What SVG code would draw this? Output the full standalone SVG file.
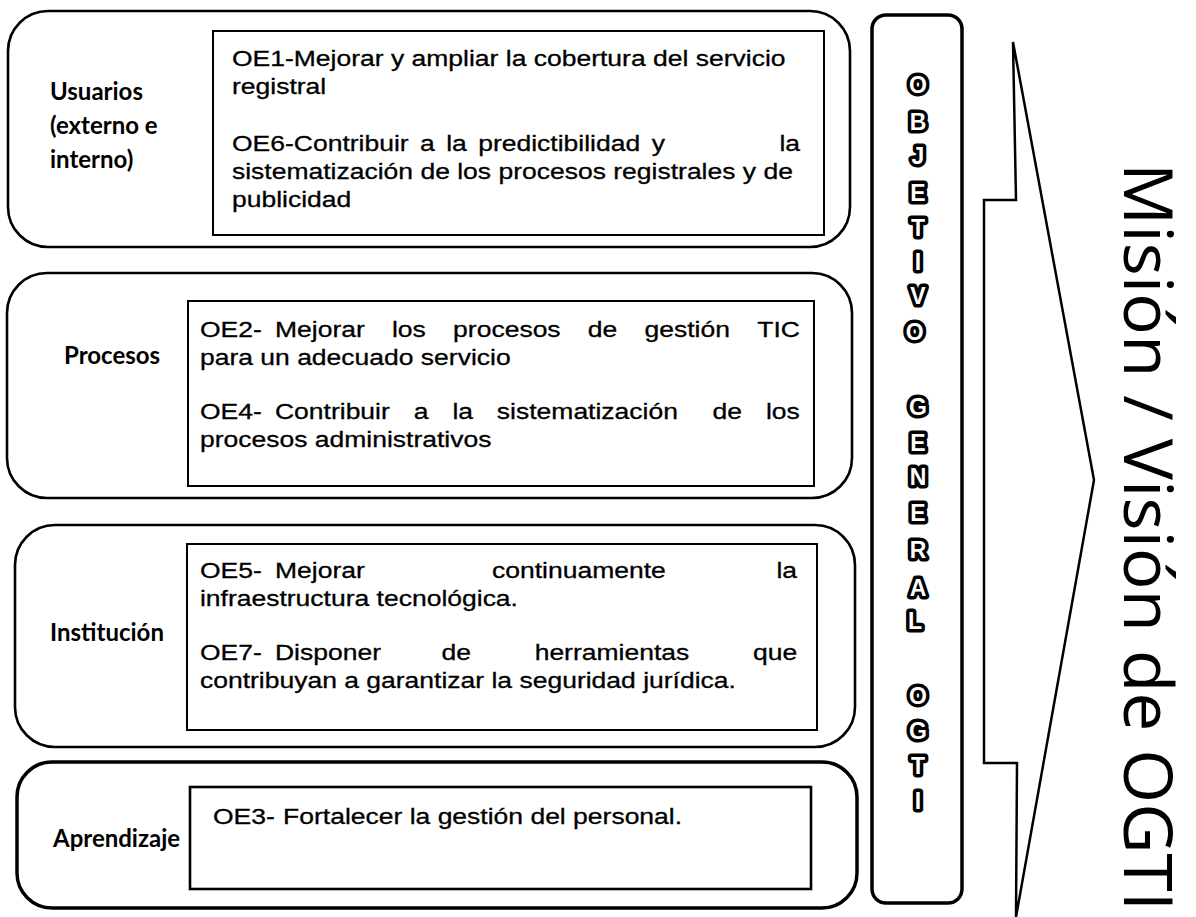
<svg xmlns="http://www.w3.org/2000/svg" width="1196" height="917" viewBox="0 0 1196 917">
<style>
.outer{fill:none;stroke:#000;stroke-width:2.6}
.inner{fill:#fff;stroke:#000;stroke-width:2}
.lbl{font-family:Lato,"Open Sans",sans-serif;font-weight:700;font-size:24px;fill:#000}
.t{font-family:"Liberation Sans",Arial,sans-serif;font-size:22px;fill:#000;stroke:#000;stroke-width:0.3}
.ltr{font-family:"Liberation Sans",Arial,sans-serif;font-weight:700;font-size:23px;fill:#fff;stroke:#000;stroke-width:7;stroke-linejoin:round;paint-order:stroke;text-anchor:middle}
.big{font-family:"Open Sans","Noto Sans",sans-serif;font-size:67px;fill:#000}
</style>
<rect width="1196" height="917" fill="#fff"/>

<g id="usuarios">
  <rect class="outer" x="8" y="11" width="842" height="236" rx="40"/>
  <rect class="inner" x="213" y="31" width="611" height="204"/>
  <text class="lbl" x="50" y="100">Usuarios</text>
  <text class="lbl" x="50" y="134">(externo e</text>
  <text class="lbl" x="50" y="168">interno)</text>
  <g transform="scale(1.2045,1)">
    <text class="t" x="192.6" y="66">OE1-Mejorar y ampliar la cobertura del servicio</text>
    <text class="t" x="192.6" y="94">registral</text>
    <text class="t" y="151"><tspan x="192.6">OE6-Contribuir</tspan><tspan x="348.8">a</tspan><tspan x="370.4">la</tspan><tspan x="397.0">predictibilidad</tspan><tspan x="541.0">y</tspan><tspan x="647.1">la</tspan></text>
    <text class="t" x="192.6" y="179">sistematización de los procesos registrales y de</text>
    <text class="t" x="192.6" y="207">publicidad</text>
  </g>
</g>

<g id="procesos">
  <rect class="outer" x="7" y="273" width="845" height="225" rx="40"/>
  <rect class="inner" x="188" y="301" width="626" height="185"/>
  <text class="lbl" x="64" y="364">Procesos</text>
  <g transform="scale(1.2045,1)">
    <text class="t" y="337"><tspan x="166">OE2-</tspan><tspan x="228.3">Mejorar</tspan><tspan x="325.4">los</tspan><tspan x="376.2">procesos</tspan><tspan x="488.0">de</tspan><tspan x="535.1">gestión</tspan><tspan x="628.7">TIC</tspan></text>
    <text class="t" x="166" y="365">para un adecuado servicio</text>
    <text class="t" y="419"><tspan x="166">OE4-</tspan><tspan x="228.3">Contribuir</tspan><tspan x="343.5">a</tspan><tspan x="375.6">la</tspan><tspan x="412.5">sistematización</tspan><tspan x="591.5">de</tspan><tspan x="635.9">los</tspan></text>
    <text class="t" x="166" y="447">procesos administrativos</text>
  </g>
</g>

<g id="institucion">
  <rect class="outer" x="15" y="525" width="840" height="222" rx="40"/>
  <rect class="inner" x="187" y="544" width="630" height="186"/>
  <text class="lbl" x="50" y="641">Institución</text>
  <g transform="scale(1.2045,1)">
    <text class="t" y="578"><tspan x="166">OE5-</tspan><tspan x="228.3">Mejorar</tspan><tspan x="408.5">continuamente</tspan><tspan x="644.6">la</tspan></text>
    <text class="t" x="166" y="606">infraestructura tecnológica.</text>
    <text class="t" y="660"><tspan x="166">OE7-</tspan><tspan x="228.3">Disponer</tspan><tspan x="366.6">de</tspan><tspan x="443.9">herramientas</tspan><tspan x="625.1">que</tspan></text>
    <text class="t" x="166" y="688">contribuyan a garantizar la seguridad jurídica.</text>
  </g>
</g>

<g id="aprendizaje">
  <rect class="outer" x="17" y="762" width="840" height="146" rx="35" style="stroke-width:3.5"/>
  <rect class="inner" x="190" y="787" width="621" height="102" style="stroke-width:2.6"/>
  <text class="lbl" x="53" y="847">Aprendizaje</text>
  <g transform="scale(1.2045,1)">
    <text class="t" y="824"><tspan x="176.8">OE3-</tspan><tspan x="235">Fortalecer la gestión del personal.</tspan></text>
  </g>
</g>

<g id="objetivo-general">
  <rect x="872" y="15" width="90" height="888" rx="14" fill="none" stroke="#000" stroke-width="3.5"/>
  <text class="ltr">
    <tspan x="918" y="93">O</tspan><tspan x="918" y="130">B</tspan><tspan x="918" y="164">J</tspan><tspan x="918" y="201">E</tspan><tspan x="918" y="236">T</tspan><tspan x="918" y="270">I</tspan><tspan x="918" y="304">V</tspan><tspan x="918" y="340">O</tspan>
    <tspan x="918" y="415">G</tspan><tspan x="918" y="451">E</tspan><tspan x="918" y="485">N</tspan><tspan x="918" y="521">E</tspan><tspan x="918" y="558">R</tspan><tspan x="918" y="596">A</tspan><tspan x="918" y="629">L</tspan>
    <tspan x="918" y="704">O</tspan><tspan x="918" y="739">G</tspan><tspan x="918" y="774">T</tspan><tspan x="918" y="809">I</tspan>
  </text>
</g>

<g id="mision-vision">
  <polygon points="1013,42 1094,480 1016,917 1017,763 984,763 984,200 1016,200" fill="#fff" stroke="#000" stroke-width="2.5" stroke-linejoin="miter"/>
  <text class="big" transform="translate(1124,163) rotate(90)" textLength="748" lengthAdjust="spacingAndGlyphs">Misión / Visión de OGTI</text>
</g>
</svg>
